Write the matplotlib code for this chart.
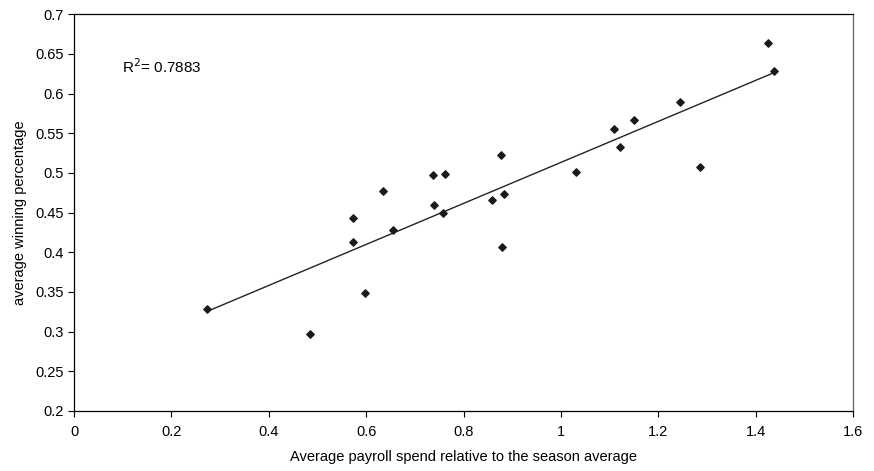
import numpy as np
import matplotlib.pyplot as plt

plt.rcParams["font.family"] = ["Liberation Sans", "DejaVu Sans"]

payroll = [0.274, 0.485, 0.572, 0.573, 0.597, 0.635, 0.655, 0.738, 0.74, 0.757,
           0.762, 0.858, 0.876, 0.879, 0.883, 1.03, 1.11, 1.122, 1.15, 1.245,
           1.285, 1.425, 1.437]
win_pct = [0.328, 0.297, 0.443, 0.413, 0.349, 0.477, 0.428, 0.497, 0.460, 0.450,
           0.498, 0.466, 0.522, 0.406, 0.473, 0.501, 0.555, 0.533, 0.567, 0.589,
           0.508, 0.663, 0.628]

x = np.array(payroll)
y = np.array(win_pct)
slope, intercept = np.polyfit(x, y, 1)
xs = np.array([x.min(), x.max()])

fig = plt.figure(figsize=(8.74, 4.71), dpi=100)
ax = fig.add_axes([0.0847, 0.1274, 0.8913, 0.8426])

ax.plot(xs, slope * xs + intercept, color="#222222", lw=1.0)
ax.scatter(x, y, marker="D", s=14, color="#1a1a1a", zorder=3)

ax.text(0.098, 0.634, "R$^2$= 0.7883", fontsize=11, va="center")

ax.set_xlim(0, 1.6)
ax.set_ylim(0.2, 0.7)
ax.set_xticks(np.arange(0, 1.61, 0.2))
ax.set_xticklabels(["0", "0.2", "0.4", "0.6", "0.8", "1", "1.2", "1.4", "1.6"])
ax.set_yticks(np.arange(0.2, 0.701, 0.05))
ax.set_yticklabels(["0.2", "0.25", "0.3", "0.35", "0.4", "0.45", "0.5",
                    "0.55", "0.6", "0.65", "0.7"])
ax.tick_params(direction="out", length=4, labelsize=10.5, width=0.8)
ax.tick_params(axis="x", pad=6)
for s in ax.spines.values():
    s.set_linewidth(0.9)
ax.spines["right"].set_color("#666666")

ax.set_xlabel("Average payroll spend relative to the season average", fontsize=10.5, labelpad=8)
ax.set_ylabel("average winning percentage", fontsize=10.5, labelpad=6)

fig.savefig("out.png", dpi=100)
